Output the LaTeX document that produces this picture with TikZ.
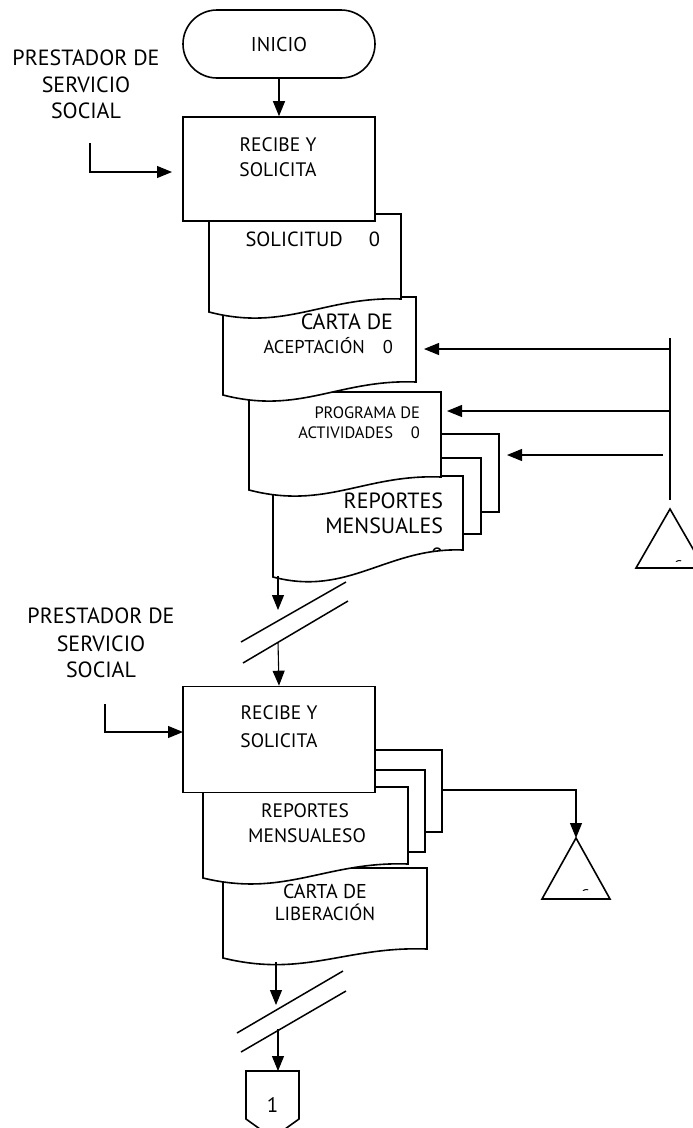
\documentclass[tikz,border=0pt]{standalone}
\usepackage{fontspec}
\setmainfont{PT Sans}
\usetikzlibrary{arrows.meta}
\newcommand\fs[2]{\fontsize{#1}{#2}\selectfont}
% document symbol: left x, right x, top y, bottom-left y, bottom-right y
\newcommand\docshape[5]{%
  \draw[docline] (#1,#3) -- (#2,#3) -- (#2,#5)
    .. controls ({#1+0.6*(#2-#1)},{#5-3}) and ({#1+0.4*(#2-#1)},{#4+20}) .. (#1,#4) -- cycle;}
\begin{document}
\begin{tikzpicture}[x=1pt,y=-1pt,
  box/.style={draw,line width=1.6pt,fill=white},
  docline/.style={draw,line width=1.6pt,fill=white,line join=miter},
  wire/.style={line width=1.1pt},
  arr/.style={line width=1.1pt,-{Triangle[length=15pt,width=12pt]}},
  brk/.style={line width=1.5pt},
  txt/.style={inner sep=0pt,outer sep=0pt}]
\useasboundingbox (0,0) rectangle (693,1128);
\clip (0,0) rectangle (693,1128);

% ---------- first stage ----------
\node[box,rounded corners=34pt,minimum width=192pt,minimum height=68pt] (inicio) at (279,44) {\fs{20}{24}INICIO};

\node[txt,anchor=base] at (86,65) {\fs{22}{26}PRESTADOR DE};
\node[txt,anchor=base] at (86,92) {\fs{22}{26}SERVICIO};
\node[txt,anchor=base] at (86,118) {\fs{22}{26}SOCIAL};

% stacked copies behind the monthly reports
\draw[docline] (300,434) rectangle (499,512);
\draw[docline] (300,458) rectangle (481,534);

\docshape{273}{463}{476}{577}{550}
\node[txt,anchor=base east] at (443,508) {\fs{22}{26}REPORTES};
\node[txt,anchor=base east] at (443,533) {\fs{22}{26}MENSUALES};
\begin{scope}
  \clip (420,540) rectangle (460,550);
  \node[txt,anchor=base east] at (443,563) {\fs{22}{26}0};
\end{scope}

\docshape{249}{441}{392}{490}{477}
\node[txt,anchor=base east] at (420,418) {\fs{16.5}{20}PROGRAMA DE};
\node[txt,anchor=base east] at (420,438) {\fs{16.5}{20}ACTIVIDADES\hspace{18pt}0};

\docshape{223}{416}{297}{395}{382}
\node[txt,anchor=base east] at (393,329) {\fs{22}{26}CARTA DE};
\node[txt,anchor=base east] at (393,353) {\fs{18.5}{22}ACEPTACIÓN\hspace{18pt}0};

\docshape{209}{401}{214}{312}{299}
\node[txt,anchor=base east] at (380,246) {\fs{20.5}{24}SOLICITUD\hspace{26pt}0};

\node[box,minimum width=192pt,minimum height=104pt] (box1) at (279,169) {};
\node[txt,anchor=base] at (278,151) {\fs{19.5}{23}RECIBE Y};
\node[txt,anchor=base] at (278,176) {\fs{19.5}{23}SOLICITA};

% archive on the right
\draw[docline] (670,509) -- (704,568) -- (636,568) -- cycle;
\coordinate (arch1) at (670,509);
\begin{scope}
  \clip (668,554) rectangle (690,561);
  \node[txt,anchor=base] at (678,570) {\fs{14}{16}C};
\end{scope}
\coordinate (vt) at (670,338);
\coordinate (vb) at (670,500);
\draw[wire] (vt) -- (vb);
\coordinate (r1) at (670,349);  \coordinate (r1t) at (424,349);
\coordinate (r2) at (670,411);  \coordinate (r2t) at (447,411);
\coordinate (r3) at (663,455);  \coordinate (r3t) at (507,455);
\draw[arr] (r1) -- (r1t);
\draw[arr] (r2) -- (r2t);
\draw[arr] (r3) -- (r3t);

% inputs and flow
\draw[arr] (inicio.south) -- (box1.north);
\coordinate (in1) at (90,143);
\coordinate (in1t) at (172,172);
\draw[arr] (in1) |- (in1t);

\coordinate (rep1b) at (278,576);
\coordinate (brk1t) at (278,610);
\draw[arr] (rep1b) -- (brk1t);
\draw[brk] (241,642) -- (346,582);
\draw[brk] (243,663) -- (348,601);

% ---------- second stage ----------
\node[txt,anchor=base] at (101,623) {\fs{22}{26}PRESTADOR DE};
\node[txt,anchor=base] at (101,651) {\fs{22}{26}SERVICIO};
\node[txt,anchor=base] at (101,677) {\fs{22}{26}SOCIAL};

\docshape{223}{427}{868}{958}{949}
\node[txt,anchor=base] at (325,898) {\fs{20}{24}CARTA DE};
\node[txt,anchor=base] at (325,920) {\fs{19}{24}LIBERACIÓN};

\draw[docline] (300,750) rectangle (442,832);
\draw[docline] (300,770) rectangle (425,852);
\docshape{203}{408}{787}{878}{864}
\node[txt,anchor=base] at (305,817) {\fs{19.5}{23}REPORTES};
\node[txt,anchor=base] at (307,842) {\fs{19.5}{23}MENSUALESO};

\node[box,minimum width=192pt,minimum height=106pt] (box2) at (279,739.5) {};
\node[txt,anchor=base] at (279,719) {\fs{19.5}{23}RECIBE Y};
\node[txt,anchor=base] at (279,747) {\fs{19.5}{23}SOLICITA};

\coordinate (brk1b) at (278,642);
\draw[arr] (brk1b) -- (box2.north);
\coordinate (in2) at (105,704);
\coordinate (in2t) at (183,732);
\draw[arr] (in2) |- (in2t);

% archive for the monthly reports
\draw[docline] (576,838) -- (610,899) -- (542,899) -- cycle;
\coordinate (arch2) at (576,838);
\begin{scope}
  \clip (576,883) rectangle (598,890);
  \node[txt,anchor=base] at (585,899) {\fs{14}{16}C};
\end{scope}
\coordinate (m2) at (442,790);
\draw[arr] (m2) -| (arch2);

% final transfer
\coordinate (lib) at (276,962);
\coordinate (brk2t) at (276,1005);
\draw[arr] (lib) -- (brk2t);
\draw[brk] (237,1033) -- (343,971);
\draw[brk] (241,1052) -- (346,991);

\draw[docline] (246,1071) -- (299,1071) -- (299,1119) -- (272.5,1138) -- (246,1119) -- cycle;
\coordinate (conn) at (278,1071);
\node[txt,anchor=base] at (272.5,1112) {\fs{21}{24}1};
\coordinate (brk2b) at (278,1029);
\draw[arr] (brk2b) -- (conn);
\end{tikzpicture}
\end{document}
